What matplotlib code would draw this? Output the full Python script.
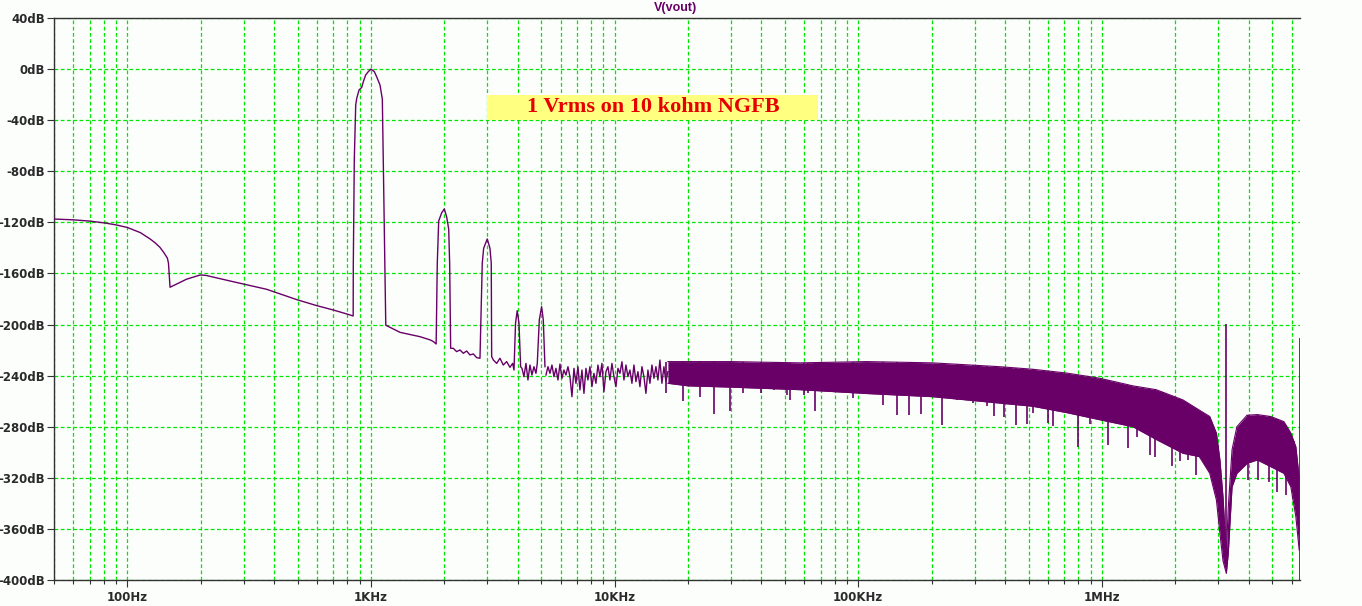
import numpy as np
import matplotlib.pyplot as plt
from matplotlib import ticker
from matplotlib.patches import Rectangle

# trace: low-frequency part with the 1k fundamental and the harmonics (Hz, dB)
trace_f = [50, 60, 70, 81, 90, 100, 113, 124, 130, 136, 141, 146, 147.5, 149.7,
           175, 199, 210, 271, 373, 496, 599, 700, 795, 845,
           846, 854, 865.5, 874, 893, 916, 930, 951, 975, 1000, 1032, 1055, 1089,
           1113, 1123, 1141, 1150,
           1315, 1589, 1754, 1805, 1851,
           1871, 1896, 1950, 1999, 2045, 2084, 2103, 2123,
           2177, 2246, 2318, 2393, 2470, 2548, 2630, 2714, 2801,
           2862, 2900, 3000, 3078, 3116, 3128,
           3177, 3280, 3383, 3491, 3603, 3719, 3814,
           3863, 3920, 3981, 4049, 4113,
           4165, 4245, 4325, 4408, 4492, 4577, 4665, 4754,
           4814, 4907, 5015, 5095, 5176]
trace_db = [-117.4, -118, -119, -120.5, -122, -124, -128, -133, -136, -139.5, -143.5, -148, -152, -170.8,
            -164.5, -161.2, -161.5, -166.4, -172.4, -180.5, -185.2, -188.6, -191.7, -193.3,
            -153.4, -71.2, -28.1, -22.9, -16.4, -14.3, -9.9, -4.6, -2, 0, -2, -6, -12.5,
            -23.4, -71, -158.6, -200.5,
            -206.1, -209.5, -212.1, -213.4, -215.2,
            -152.1, -118.9, -112.6, -109.5, -115.8, -125.2, -152, -218.6,
            -218.6, -221.2, -219.9, -222.5, -220.7, -223.8, -223.0, -225.9, -226.4,
            -152, -140.3, -133, -140.3, -152, -225.1,
            -227.7, -230.4, -226.4, -231.7, -229.0, -233.5, -230.4,
            -235.6, -199, -189.1, -199, -233,
            -234.3, -240.8, -230.4, -243.4, -231.7, -239.5, -233, -238.2,
            -230.4, -196.4, -186, -196.4, -233]

# sparse noise floor 5k..16.5k
noise_f = [5226, 5325, 5427, 5530, 5636, 5743, 5853, 5965, 6078, 6194, 6312, 6433, 6555,
           6680, 6808, 6937, 7070, 7205, 7342, 7482, 7625, 7770, 7918, 8069, 8223, 8380,
           8540, 8704, 8869, 9038, 9211, 9386, 9565, 9748, 9934, 10123, 10316, 10515,
           10715, 10919, 11127, 11340, 11556, 11776, 12001, 12230, 12463, 12700, 12942,
           13189, 13441, 13697, 13958, 14225, 14496, 14772, 15054, 15340, 15633, 15931,
           16235, 16545]
noise_db = [-239.5, -233.0, -238.2, -231.7, -240.8, -234.3, -243.4, -230.9, -242.1, -235.6,
            -239.5, -233.0, -240.8, -256.5, -234.3, -246.0, -233.0, -251.2, -235.6, -253.9,
            -234.3, -243.4, -233.0, -248.6, -238.2, -246.0, -231.7, -240.8, -230.4, -252.6,
            -236.9, -233.0, -243.4, -230.4, -240.8, -248.6, -234.3, -238.2, -229.1, -243.4,
            -231.7, -240.8, -235.6, -246.0, -231.7, -244.7, -236.9, -248.6, -233.0, -240.8,
            -253.9, -235.6, -246.0, -231.7, -242.1, -233.0, -243.4, -227.8, -246.0, -233.0,
            -244.7, -236.9]

# dense noise band envelope
band_f = [16545, 20000, 30000, 57600, 108000, 202000, 381000, 520000, 718000, 977000,
          1340000, 1670000, 2150000, 2510000, 2770000, 2950000, 3050000, 3140000, 3240000,
          3300000, 3420000, 3580000, 3940000, 4340000, 4930000, 5580000, 5960000, 6250000, 6450000]
band_hi = [-229, -229, -229, -230, -229, -230, -233, -235, -238, -242,
           -248, -251, -259, -267, -272, -285, -306, -335, -380,
           -343, -298, -280, -271, -270.5, -272, -276, -285, -295.6, -320]
band_lo = [-246, -248, -249, -251, -254, -256.5, -261.5, -264, -269, -274.5,
           -280, -290, -300.8, -303.4, -316.5, -337.4, -363.5, -385, -394.8,
           -379, -327, -316.5, -308.7, -306, -311.3, -316.5, -327, -350.4, -376.5]

# single-bin drops below the band
spike_f = [16300, 19070, 22400, 25600, 29700, 33700, 39700, 45000, 51000, 52400, 60000,
           62000, 66200, 95300, 126000, 143600, 161800, 181000, 219800, 253000, 296000,
           336000, 360000, 395000, 443000, 492000, 522000, 602000, 630000, 796000, 891000,
           1058000, 1277000, 1387000, 1573000, 1650000, 1782000, 1930000, 2088000, 2260000,
           2440000, 3980000, 4390000, 4830000, 5240000, 5690000, 6120000]
spike_db = [-253.7, -260, -256.5, -270, -268, -253.7, -253.7, -251, -255, -259, -255,
            -253.8, -268, -257.7, -263, -271, -270.8, -270, -279, -259, -261.6,
            -264, -271.6, -272.6, -279, -278, -269, -277, -279.6, -295.6, -278,
            -294.3, -297, -287.8, -302, -303.4, -291, -311, -307, -306,
            -317.8, -321.7, -321.7, -323, -330.8, -333.5, -332]

# spur at 3.245 MHz and the last bin at the right edge
spur_f = 3245000
spur_db = -199.6
edge_f = 6490000
edge_db = -210.6

col = '#680068'
grid_col = '#00e600'
txt_col = '#2a2a2a'

fig = plt.figure(figsize=(13.62, 6.06), dpi=100, facecolor='#fcfefc')
ax = fig.add_axes([54 / 1362, 1 - 580 / 606, 1246 / 1362, 562 / 606])
ax.set_facecolor('#fcfefc')

ax.plot(trace_f, trace_db, color=col, lw=1.0, zorder=3)
ax.plot(noise_f, noise_db, color=col, lw=1.0, zorder=3)
ax.fill_between(band_f, band_lo, band_hi, color=col, lw=0, zorder=3)
ax.plot(band_f, band_hi, color=col, lw=0.8, zorder=3)
ax.plot(band_f, band_lo, color=col, lw=0.8, zorder=3)

lf = np.log10(spike_f)
tops = np.interp(lf, np.log10(band_f), band_hi)
ax.vlines(spike_f, spike_db, tops, color=col, lw=1.2, zorder=3)
ax.vlines([spur_f], [-390], [spur_db], color=col, lw=1.2, zorder=3)
ax.vlines([edge_f], [-400], [edge_db], color=col, lw=1.2, zorder=3)

ax.set_xscale('log')
ax.set_xlim(50, 6.5e6)
ax.set_ylim(-400, 40)

xt = [100, 1e3, 1e4, 1e5, 1e6]
xl = ['100Hz', '1KHz', '10KHz', '100KHz', '1MHz']
ax.xaxis.set_major_locator(ticker.FixedLocator(xt))
ax.xaxis.set_major_formatter(ticker.FixedFormatter(xl))
ax.xaxis.set_minor_locator(ticker.LogLocator(base=10, subs=np.arange(2, 10), numticks=60))
ax.xaxis.set_minor_formatter(ticker.NullFormatter())

yt = list(range(-400, 41, 40))
ax.set_yticks(yt)
ax.set_yticklabels([f'{v}dB' for v in yt])

ax.grid(which='both', axis='x', color=grid_col, lw=0.9, linestyle=(0, (3, 2)), zorder=1)
ax.grid(which='major', axis='y', color=grid_col, lw=0.9, linestyle=(0, (3, 2)), zorder=1)
ax.set_axisbelow(True)

for s in ['left', 'bottom', 'top']:
    ax.spines[s].set_color('#333333')
    ax.spines[s].set_linewidth(1.0)
ax.spines['right'].set_visible(False)

ax.tick_params(axis='x', which='major', direction='out', length=5, width=0.8,
               color='#333333', pad=3)
ax.tick_params(axis='x', which='minor', direction='out', length=3, width=0.8,
               color='#333333')
ax.tick_params(axis='y', which='major', direction='out', length=5, width=0.8,
               color='#333333', pad=1.5)
for lab in ax.get_xticklabels() + ax.get_yticklabels():
    lab.set_fontfamily('DejaVu Sans')
    lab.set_fontweight('bold')
    lab.set_fontsize(8.5)
    lab.set_color(txt_col)

fig.text(675.8 / 1362, 1 - 8 / 606, 'V(vout)', color=col, fontsize=9,
         fontfamily='Liberation Sans', fontweight='bold', ha='center', va='center')

ax.add_patch(Rectangle((0.3478, 0.819), 0.2657, 0.0445, transform=ax.transAxes,
                       facecolor='#ffff80', edgecolor='none', zorder=4))
ax.text(0.4806, 0.8416, '1 Vrms on 10 kohm NGFB', transform=ax.transAxes,
        color='#e60000', fontsize=16, fontfamily='Liberation Serif',
        fontweight='bold', ha='center', va='center', zorder=5)

fig.savefig('out.png', dpi=100, facecolor=fig.get_facecolor())
